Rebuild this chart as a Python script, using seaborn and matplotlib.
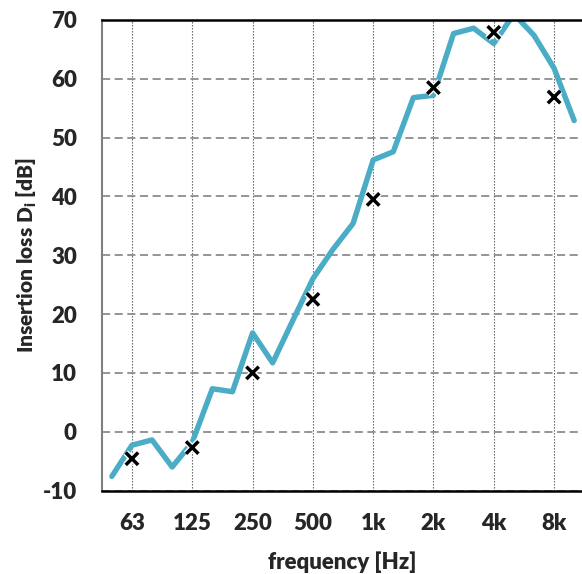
import numpy as np
import pandas as pd
import matplotlib
matplotlib.use("Agg")
import matplotlib.pyplot as plt
import matplotlib.patheffects as pe
import seaborn as sns

# third-octave bands 50 Hz .. 10 kHz
bands = ["50", "63", "80", "100", "125", "160", "200", "250", "315", "400",
         "500", "630", "800", "1k", "1.25k", "1.6k", "2k", "2.5k", "3.15k",
         "4k", "5k", "6.3k", "8k", "10k"]
insertion_loss = [-7.6, -2.3, -1.4, -6.0, -1.8, 7.3, 6.8, 16.8, 11.7, 18.9,
                  26.0, 31.0, 35.4, 46.2, 47.6, 56.8, 57.2, 67.7, 68.6, 66.0,
                  71.0, 67.4, 61.8, 52.9]

# octave band values (crosses)
octave_labels = ["63", "125", "250", "500", "1k", "2k", "4k", "8k"]
octave_values = [-4.6, -2.7, 10.0, 22.5, 39.5, 58.5, 67.9, 56.9]

df = pd.DataFrame({"band": np.arange(len(bands)), "loss": insertion_loss})
oct_pos = [bands.index(b) for b in octave_labels]
df_oct = pd.DataFrame({"band": oct_pos, "loss": octave_values})

sns.set_style("white")
plt.rcParams["font.family"] = ["Lato", "DejaVu Sans"]
plt.rcParams["font.weight"] = "heavy"
plt.rcParams["axes.unicode_minus"] = False
plt.rcParams["mathtext.fontset"] = "custom"
plt.rcParams["mathtext.rm"] = "Lato:heavy"
plt.rcParams["mathtext.bf"] = "Lato:heavy"

fig = plt.figure(figsize=(5.82, 5.74), dpi=100)
ax = fig.add_axes([102/582, 83.5/574, 480/582, 470.5/574])

sns.lineplot(data=df, x="band", y="loss", color="#4BACC6", linewidth=3.9,
             ax=ax, zorder=3)
sns.scatterplot(data=df_oct, x="band", y="loss", marker="x", color="black",
                s=80, linewidth=2.5, ax=ax, zorder=4,
                path_effects=[pe.withStroke(linewidth=4.5, foreground="white")])

ax.set_xlim(-0.49, 23.39)
ax.set_ylim(-10, 70)
ax.set_yticks(range(-10, 71, 10))
ax.set_xticks(oct_pos)
ax.set_xticklabels(octave_labels)

ax.grid(axis="y", color="#8c8c8c", linestyle=(0, (4.5, 2.5)), linewidth=1.3)
ax.grid(axis="x", color="#555555", linestyle=(0, (1.2, 1.5)), linewidth=0.8)
ax.set_axisbelow(True)

ax.tick_params(axis="both", length=0, labelsize=16)
ax.tick_params(axis="y", pad=18)
ax.tick_params(axis="x", pad=16)

ax.spines["right"].set_visible(False)
ax.spines["left"].set_color("#808080")
ax.spines["left"].set_linewidth(1.5)
ax.spines["top"].set_color("black")
ax.spines["top"].set_linewidth(1.8)
ax.spines["bottom"].set_color("black")
ax.spines["bottom"].set_linewidth(1.8)
for s in ax.spines.values():
    s.set_zorder(5)

ax.set_xlabel("frequency [Hz]", fontsize=16, fontweight="heavy", labelpad=13)
ax.set_ylabel(r"Insertion loss D$_{\mathrm{i}}$ [dB]", fontsize=15,
              fontweight="heavy", labelpad=3)

fig.savefig("out.png", dpi=100)
